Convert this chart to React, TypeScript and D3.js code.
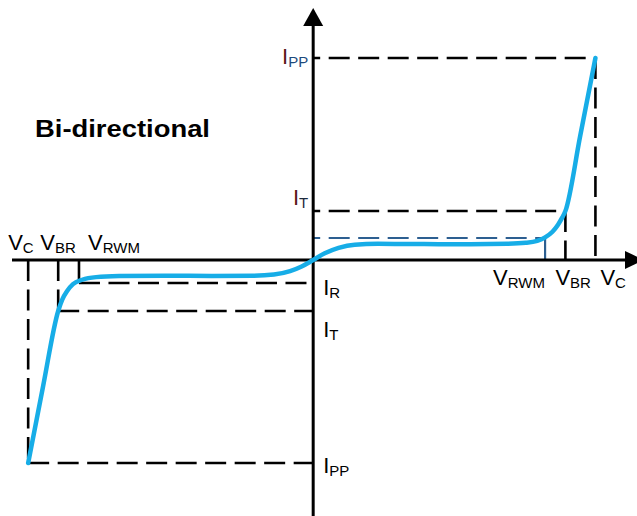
import React from "react";
import * as d3 from "d3";

// I-V curve of the bi-directional TVS (voltage, current in arbitrary units)
const curveV = [-6.17, -5.85, -5.52, -5.43, -5.33, -5.2, -5.0, -4.7, -4.2, -3.2, -2.2, -1.3, -0.85, -0.5, -0.25, 0, 0.25, 0.55, 0.9, 1.4, 2.4, 3.4, 4.2, 4.6, 4.85, 5.02, 5.18, 5.3, 5.39, 5.46, 5.78, 6.11];
const curveI = [-10.07, -6.3, -2.53, -1.95, -1.55, -1.2, -0.98, -0.85, -0.8, -0.78, -0.79, -0.78, -0.72, -0.55, -0.32, 0, 0.33, 0.6, 0.76, 0.8, 0.79, 0.78, 0.8, 0.85, 0.95, 1.12, 1.4, 1.75, 2.1, 2.43, 6.15, 10.02];

// V_RWM, V_BR, V_C
const posV = [5.02, 5.46, 6.11];
const negV = [-5.07, -5.52, -6.17];
// I_R, I_T, I_PP
const posI = [1.09, 2.43, 10.02];
const negI = [-1.14, -2.53, -10.07];

const vSubs = ["RWM", "BR", "C"];
const iSubs = ["R", "T", "PP"];
const title = "Bi-directional";

const W = 637;
const H = 516;
const BLUE = "#17ade7";
const DASH = "21,8.5";
const FONT = "'Liberation Sans', Arial, sans-serif";

function Sub({ x, y, main, sub, anchor, mainColor, subColor }: any) {
  return (
    <text x={x} y={y} textAnchor={anchor || "start"} fontFamily={FONT} fontSize={22} fill={mainColor || "#000"}>
      {main}
      <tspan fontSize={15} dy={3.5} fill={subColor || "#000"}>{sub}</tspan>
    </text>
  );
}

export default function App() {
  const x = d3.scaleLinear().domain([-6.52, 7.01]).range([12, 637]);
  const y = d3.scaleLinear().domain([-12.7, 12.5]).range([516, 8]);
  const x0 = x(0);
  const y0 = y(0);

  const line = d3
    .line<number>()
    .x((d, i) => x(curveV[i]))
    .y((d) => y(d))
    .curve(d3.curveMonotoneX);

  const dashed = { stroke: "#000", strokeWidth: 2.6, strokeDasharray: DASH, fill: "none" };

  return (
    <div style={{ position: "absolute", left: 0, top: 0 }}>
      <svg width={W} height={H} style={{ display: "block", background: "#fff" }}>
        {/* positive side guides */}
        <line x1={x0} x2={x(posV[2])} y1={y(posI[2])} y2={y(posI[2])} {...dashed} strokeDashoffset={14} />
        <line x1={x(posV[2])} x2={x(posV[2])} y1={y(posI[2])} y2={y0} {...dashed} />
        <line x1={x0} x2={x(posV[1])} y1={y(posI[1])} y2={y(posI[1])} {...dashed} strokeDashoffset={14} />
        <line x1={x(posV[1])} x2={x(posV[1])} y1={y(posI[1])} y2={y0} {...dashed} />
        <line x1={x0} x2={x(posV[0])} y1={y(posI[0])} y2={y(posI[0])} stroke="#2d5f91" strokeWidth={2.2} strokeDasharray={DASH} strokeDashoffset={14} />
        <line x1={x(posV[0])} x2={x(posV[0])} y1={y(posI[0])} y2={y0} stroke="#2d5f91" strokeWidth={2.2} />

        {/* negative side guides */}
        <line x1={x(negV[2])} x2={x0} y1={y(negI[2])} y2={y(negI[2])} {...dashed} />
        <line x1={x(negV[2])} x2={x(negV[2])} y1={y0} y2={y(negI[2])} {...dashed} />
        <line x1={x(negV[1])} x2={x0} y1={y(negI[1])} y2={y(negI[1])} {...dashed} />
        <line x1={x(negV[1])} x2={x(negV[1])} y1={y0} y2={y(negI[1])} {...dashed} />
        <line x1={x(negV[0])} x2={x0} y1={y(negI[0])} y2={y(negI[0])} {...dashed} />
        <line x1={x(negV[0])} x2={x(negV[0])} y1={y0} y2={y(negI[0])} stroke="#000" strokeWidth={2.6} />

        {/* axes */}
        <line x1={x(-6.52)} x2={625} y1={y0} y2={y0} stroke="#000" strokeWidth={3} />
        <polygon points={`625,${y0 - 9} 644,${y0} 625,${y0 + 9}`} fill="#000" />
        <line x1={x0} x2={x0} y1={26} y2={H} stroke="#000" strokeWidth={3} />
        <polygon points={`${x0 - 10},26 ${x0},8 ${x0 + 10},26`} fill="#000" />

        {/* curve */}
        <path d={line(curveI) || ""} fill="none" stroke={BLUE} strokeWidth={4.5} strokeLinecap="round" />

        {/* voltage labels */}
        <Sub x={x(negV[2]) - 20} y={y0 - 10} main="V" sub={vSubs[2]} />
        <Sub x={x(negV[1]) - 18} y={y0 - 10} main="V" sub={vSubs[1]} />
        <Sub x={x(negV[0]) + 9} y={y0 - 10} main="V" sub={vSubs[0]} />
        <Sub x={x(posV[0]) - 52} y={y0 + 25} main="V" sub={vSubs[0]} />
        <Sub x={x(posV[1]) - 10} y={y0 + 25} main="V" sub={vSubs[1]} />
        <Sub x={x(posV[2]) + 5} y={y0 + 25} main="V" sub={vSubs[2]} />

        {/* current labels */}
        <Sub x={x0 - 5} y={y(posI[2]) + 6} main="I" sub={iSubs[2]} anchor="end" mainColor="#5a1616" subColor="#1d4a7c" />
        <Sub x={x0 - 5} y={y(posI[1]) - 6} main="I" sub={iSubs[1]} anchor="end" mainColor="#5a1616" subColor="#1d2a3c" />
        <Sub x={x0 + 10} y={y(negI[0]) + 12} main="I" sub={iSubs[0]} />
        <Sub x={x0 + 10} y={y(negI[1]) + 26} main="I" sub={iSubs[1]} />
        <Sub x={x0 + 10} y={y(negI[2]) + 10} main="I" sub={iSubs[2]} />

        <text x={35} y={137} fontFamily={FONT} fontWeight="bold" fontSize={23.5} textLength={175} lengthAdjust="spacingAndGlyphs">
          {title}
        </text>
      </svg>
    </div>
  );
}
